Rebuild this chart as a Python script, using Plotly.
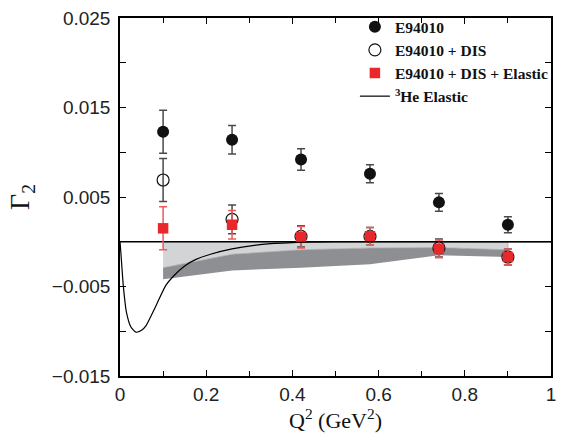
import plotly.graph_objects as go

# ---- data ----
q2 = [0.1, 0.26, 0.42, 0.58, 0.74, 0.9]

g2_e94010 = [0.0123, 0.0114, 0.0092, 0.0076, 0.0044, 0.0019]
err_e94010 = [0.0024, 0.0016, 0.0012, 0.0010, 0.0010, 0.0009]

g2_dis = [0.0069, 0.0025, 0.0006, 0.0006, -0.0007, -0.0017]
err_dis = [0.0024, 0.0016, 0.0012, 0.0010, 0.0010, 0.0009]

g2_el = [0.0015, 0.0019, 0.0005, 0.0006, -0.0008, -0.0017]
err_el = [0.0024, 0.0016, 0.0012, 0.0010, 0.0010, 0.0009]

band_top = [0.0, 0.0, 0.0, 0.0, 0.0, 0.0]
band_light_low = [-0.0029, -0.0014, -0.0009, -0.0007, -0.00065, -0.0009]
band_dark_low = [-0.0042, -0.0032, -0.0029, -0.0025, -0.0015, -0.0017]

el_q2 = [0.0, 0.002, 0.0045, 0.0076, 0.015, 0.025, 0.037, 0.05, 0.06, 0.083,
         0.106, 0.125, 0.15, 0.175, 0.21, 0.26, 0.33, 0.4, 0.5, 0.6, 0.8, 1.0]
el_g2 = [0.0, -0.0012, -0.0029, -0.0049, -0.0079, -0.0095, -0.0101, -0.0099,
         -0.0094, -0.0072, -0.0049, -0.0038, -0.0027, -0.0020, -0.0014, -0.0008,
         -0.0003, -0.0001, 0.0, 0.0, 0.0, 0.0]

zero_x = [0.0, 1.0]
zero_y = [0.0, 0.0]

RED = "#e8282b"

fig = go.Figure()

# dark band (between light lower edge and dark lower edge)
fig.add_trace(go.Scatter(x=q2, y=band_light_low, mode="lines",
                         line=dict(width=0, color="#8e8f92"),
                         showlegend=False, hoverinfo="skip"))
fig.add_trace(go.Scatter(x=q2, y=band_dark_low, mode="lines", fill="tonexty",
                         fillcolor="#8e8f92", line=dict(width=0, color="#8e8f92"),
                         showlegend=False, hoverinfo="skip"))
# light band
fig.add_trace(go.Scatter(x=q2 + q2[::-1], y=band_top + band_light_low[::-1],
                         mode="lines", fill="toself", fillcolor="#d3d4d6",
                         line=dict(width=0.8, color="#a8a8a8"),
                         showlegend=False, hoverinfo="skip"))
# zero line
fig.add_trace(go.Scatter(x=zero_x, y=zero_y, mode="lines",
                         line=dict(color="black", width=1.6),
                         showlegend=False, hoverinfo="skip"))

# data
fig.add_trace(go.Scatter(
    x=q2, y=g2_e94010, mode="markers", name="E94010",
    marker=dict(symbol="circle", size=12, color="#111111"),
    error_y=dict(type="data", array=err_e94010, color="#4a4a4a", thickness=1.5, width=4)))
fig.add_trace(go.Scatter(
    x=q2, y=g2_dis, mode="markers", name="E94010 + DIS",
    marker=dict(symbol="circle-open", size=12, color="#111111", line=dict(width=1.2)),
    error_y=dict(type="data", array=err_dis, color="#4a4a4a", thickness=1.5, width=4)))
fig.add_trace(go.Scatter(
    x=q2, y=g2_el, mode="markers", name="E94010 + DIS + Elastic",
    marker=dict(symbol="square", size=10.5, color=RED),
    error_y=dict(type="data", array=err_el, color="#ec5a5a", thickness=1.5, width=4)))

# elastic curve
fig.add_trace(go.Scatter(
    x=el_q2, y=el_g2, mode="lines", name="<sup>3</sup>He Elastic",
    line=dict(color="black", width=1.2, shape="spline", smoothing=0.6)))

tick_font = dict(family="Liberation Sans, Arial", size=19, color="#222")

fig.update_layout(
    width=564, height=441,
    margin=dict(l=120, r=8, t=16, b=65),
    paper_bgcolor="white", plot_bgcolor="white",
    showlegend=True,
    legend=dict(x=0.545, y=1.022, xanchor="left", yanchor="top",
                traceorder="normal",
                bgcolor="rgba(0,0,0,0)", borderwidth=0,
                font=dict(family="Liberation Serif", size=15.5, color="#111", weight="bold"),
                tracegroupgap=0, itemwidth=30),
    xaxis=dict(range=[0, 1], tick0=0, dtick=0.2, showgrid=False, zeroline=False,
               showline=True, linecolor="black", linewidth=1.5, mirror="ticks",
               ticks="inside", ticklen=6, tickcolor="black", tickwidth=1,
               minor=dict(dtick=0.1, ticks="inside", ticklen=5, tickcolor="black"),
               tickfont=tick_font,
               title=dict(text="Q<sup>2</sup> (GeV<sup>2</sup>)",
                          font=dict(family="Liberation Serif", size=22, color="#111"),
                          standoff=8)),
    yaxis=dict(range=[-0.015, 0.025], tick0=-0.015, dtick=0.01, tickformat=".3f",
               showgrid=False, zeroline=False,
               showline=True, linecolor="black", linewidth=1.5, mirror="ticks",
               ticks="inside", ticklen=6, tickcolor="black", tickwidth=1,
               minor=dict(dtick=0.005, ticks="inside", ticklen=6, tickcolor="black"),
               tickfont=tick_font, ticklabelstandoff=4,
               title=dict(text="Γ<sub>2</sub>",
                          font=dict(family="Liberation Serif", size=28, color="#111"),
                          standoff=14)),
)

fig.write_html("out.html")
